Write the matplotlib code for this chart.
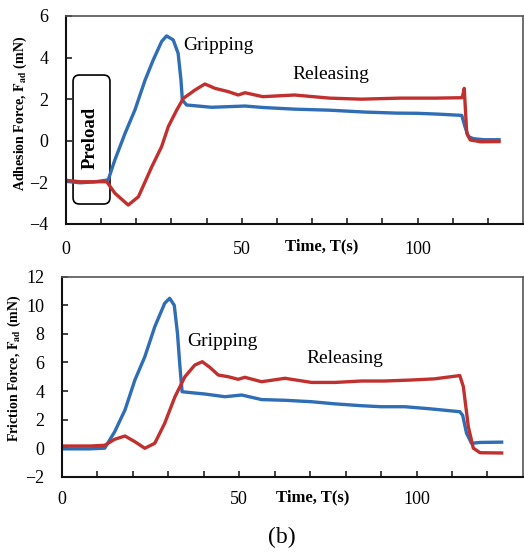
import matplotlib
matplotlib.use('Agg')
import matplotlib.pyplot as plt
from matplotlib.patches import FancyBboxPatch

plt.rcParams['font.family'] = ['Liberation Serif', 'DejaVu Serif']
plt.rcParams['mathtext.fontset'] = 'stix'

# Adhesion force (top)
t_adh_blue = [0, 4, 8, 12, 13.9, 16.8, 19.6, 22.5, 24.8, 27.2, 28.6, 30.5, 31.9, 32.7, 33.1,
              34.3, 41.4, 50.9, 56, 65, 75, 85, 94, 100, 106, 112.6, 113.5, 114.5, 115.9, 119, 123.2]
adh_blue = [-1.95, -2.02, -1.98, -1.88, -0.92, 0.36, 1.48, 2.92, 3.88, 4.77, 5.04, 4.85, 4.2, 2.92, 1.96,
            1.72, 1.61, 1.67, 1.6, 1.52, 1.47, 1.38, 1.33, 1.32, 1.28, 1.22, 0.68, 0.2, 0.1, 0.05, 0.05]
t_adh_red = [0, 4, 8, 11.6, 13.9, 17.7, 20.6, 24.4, 27.2, 29.1, 31.5, 33.4, 36.7, 39.5, 42.4,
             46.2, 49, 50.9, 56, 65, 75, 84, 95, 105, 112.6, 112.9, 113.3, 114, 115, 118, 123.2]
adh_red = [-1.9, -1.97, -1.97, -1.97, -2.52, -3.09, -2.69, -1.25, -0.28, 0.68, 1.48, 2.04, 2.44, 2.73, 2.52,
           2.36, 2.2, 2.31, 2.12, 2.2, 2.05, 2.0, 2.05, 2.05, 2.07, 2.2, 2.52, 0.37, 0.04, -0.05, -0.04]

# Friction force (bottom)
t_fr_blue = [0, 4, 8, 12.1, 14.9, 17.8, 20.6, 23.4, 26.2, 29.0, 30.4, 31.7, 32.6, 33.3, 33.9,
             36.6, 40.3, 46, 50.7, 56.3, 63, 70.4, 77, 84.5, 90, 96.7, 104, 112.2, 113.0, 114.1,
             115.5, 118, 124]
fr_blue = [-0.05, -0.05, -0.05, 0.0, 1.15, 2.67, 4.77, 6.4, 8.5, 10.14, 10.49, 10.0, 8.04, 5.7, 3.95,
           3.88, 3.79, 3.6, 3.72, 3.4, 3.35, 3.25, 3.1, 2.97, 2.9, 2.9, 2.75, 2.55, 2.3, 1.04,
           0.34, 0.4, 0.42]
t_fr_red = [0, 4, 8, 12.1, 14.9, 17.8, 20.6, 23.4, 26.2, 29.0, 31.9, 34.7, 37.5, 39.6, 41.7,
            44.1, 46.9, 49.7, 51.6, 56.3, 62.9, 70.4, 77, 84.5, 91, 98.6, 105, 112.2, 113.2,
            114.6, 116, 117.9, 124]
fr_red = [0.15, 0.15, 0.15, 0.2, 0.62, 0.85, 0.45, -0.01, 0.34, 1.74, 3.6, 5.0, 5.82, 6.05, 5.66,
          5.12, 5.0, 4.82, 4.96, 4.65, 4.89, 4.6, 4.6, 4.7, 4.7, 4.77, 4.85, 5.08, 4.3,
          1.5, 0.0, -0.32, -0.34]

BLUE = '#2f6db5'
RED = '#c0302e'

fig = plt.figure(figsize=(5.24, 5.54), dpi=100)
ax1 = fig.add_axes([0.126, 0.5957, 0.872, 0.3755])
ax2 = fig.add_axes([0.118, 0.1395, 0.880, 0.3610])


def style(ax, ylim, yticks, xpad):
    ax.set_xlim(0, 130)
    ax.set_ylim(*ylim)
    ax.set_yticks(yticks)
    ax.set_xticks([0, 50, 100])
    ax.set_xticks(list(range(10, 130, 10)), minor=True)
    ax.tick_params(axis='both', which='both', direction='in', length=4, width=1.2,
                   labelsize=13, color='#222')
    ax.tick_params(axis='x', pad=xpad)
    ax.tick_params(axis='y', pad=12.5)
    for s in ['left', 'bottom']:
        ax.spines[s].set_linewidth(1.5)
        ax.spines[s].set_color('#111')
    for s in ['top', 'right']:
        ax.spines[s].set_linewidth(1.2)
        ax.spines[s].set_color('#555')


ax1.plot(t_adh_blue, adh_blue, color=BLUE, lw=2.4)
ax1.plot(t_adh_red, adh_red, color=RED, lw=2.4)
style(ax1, (-4, 6), [-4, -2, 0, 2, 4, 6], 12)
ax1.set_ylabel(r'Adhesion Force, $\mathbf{F_{ad}}$ (mN)', fontsize=10, fontweight='bold')
ax1.yaxis.set_label_coords(-0.082, 0.53)
ax1.text(0.56, -0.11, 'Time, T(s)', transform=ax1.transAxes, ha='center', va='center',
         fontsize=12, fontweight='bold')
ax1.text(43.5, 4.6, 'Gripping', fontsize=14, ha='center', va='center')
ax1.text(75.4, 3.2, 'Releasing', fontsize=14, ha='center', va='center')
box = FancyBboxPatch((2, -3.04), 10.5, 6.2, boxstyle='round,pad=0,rounding_size=1.8',
                     mutation_aspect=0.169, facecolor='none', edgecolor='black', lw=1.2)
ax1.add_patch(box)
ax1.text(6.9, 0.13, 'Preload', rotation=90, fontsize=13.5, fontweight='bold',
         ha='center', va='center')

ax2.plot(t_fr_blue, fr_blue, color=BLUE, lw=2.4)
ax2.plot(t_fr_red, fr_red, color=RED, lw=2.4)
style(ax2, (-2, 12), [-2, 0, 2, 4, 6, 8, 10, 12], 10)
ax2.set_ylabel(r'Friction Force, $\mathbf{F_{ad}}$ (mN)', fontsize=10, fontweight='bold')
ax2.yaxis.set_label_coords(-0.084, 0.54)
ax2.text(0.545, -0.105, 'Time, T(s)', transform=ax2.transAxes, ha='center', va='center',
         fontsize=12, fontweight='bold')
ax2.text(45.4, 7.5, 'Gripping', fontsize=14, ha='center', va='center')
ax2.text(79.8, 6.3, 'Releasing', fontsize=14, ha='center', va='center')

fig.text(0.538, 0.029, '(b)', fontsize=17, ha='center', va='center')

fig.savefig('out.png', dpi=100)
